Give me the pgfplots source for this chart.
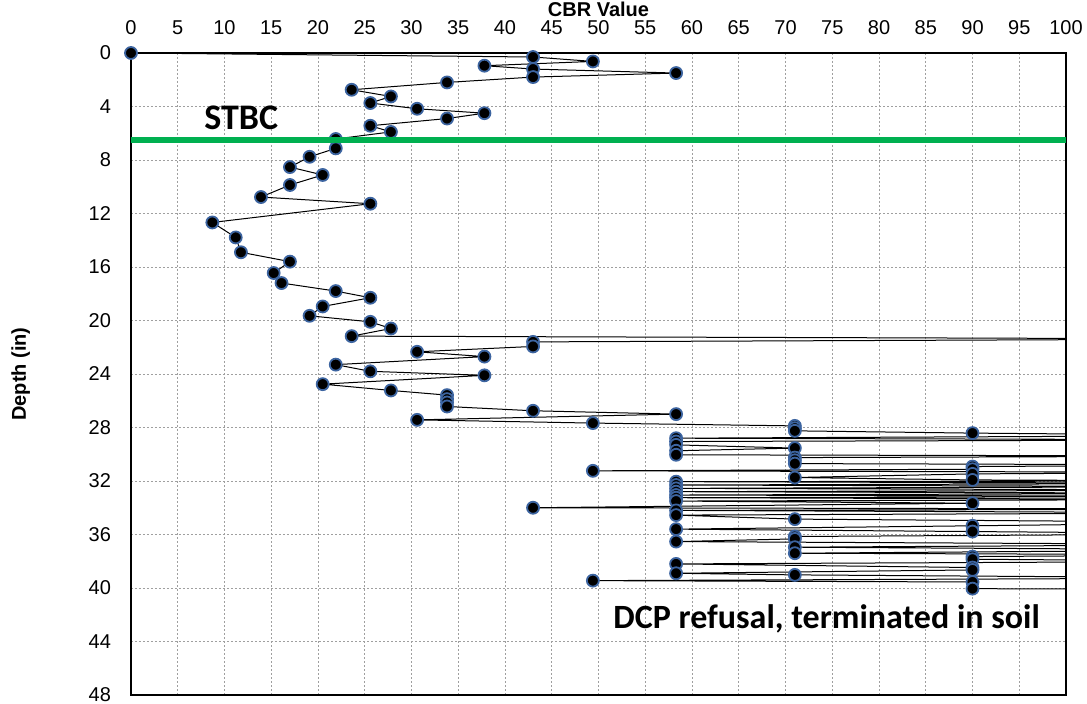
\documentclass[border=0pt]{standalone}
\usepackage{fontspec}
\setmainfont{Liberation Sans}
\newfontfamily\calib{Carlito}
\usepackage{pgfplots}
\pgfplotsset{compat=1.18}
\usepackage{pgfplotstable}
\definecolor{mkblue}{RGB}{60,100,160}
\definecolor{stbcgreen}{RGB}{0,176,80}

\pgfplotstableread{
x y
0 0
43 0.3
49.4 0.63
37.8 0.95
43 1.2
58.3 1.5
43 1.8
33.8 2.2
23.6 2.75
27.8 3.25
25.6 3.74
30.6 4.17
37.8 4.5
33.8 4.9
25.6 5.44
27.8 5.9
21.9 6.43
21.9 7.13
19.1 7.76
17.0 8.53
20.5 9.12
17.0 9.87
13.9 10.77
25.6 11.27
8.7 12.67
11.2 13.79
11.76 14.9
17.0 15.6
15.26 16.45
16.1 17.2
21.9 17.8
25.6 18.3
20.5 18.95
19.1 19.65
25.6 20.1
27.8 20.6
23.6 21.17
120 21.38
43 21.6
43 21.94
30.6 22.34
37.8 22.7
21.9 23.3
25.6 23.8
37.8 24.1
20.5 24.76
27.8 25.23
33.8 25.58
33.8 25.88
33.8 26.13
33.8 26.43
43 26.75
58.3 27.0
30.6 27.43
49.4 27.67
71 27.88
71 28.05
71 28.25
90 28.42
120 28.6
58.3 28.8
120 28.92
58.3 29.05
58.3 29.3
71 29.54
58.3 29.74
58.3 30.04
120 30.14
71 30.25
71 30.45
71 30.7
120 30.8
90 30.92
90 31.12
49.4 31.24
120 31.35
90 31.47
71 31.74
90 31.92
120 32.0
58.3 32.05
120 32.18
58.3 32.3
120 32.42
58.3 32.55
120 32.68
58.3 32.8
120 32.92
58.3 33.05
120 33.15
58.3 33.25
120 33.38
58.3 33.5
90 33.66
43 34.0
120 34.1
58.3 34.2
120 34.38
58.3 34.55
71 34.85
120 35.1
90 35.35
58.3 35.6
90 35.78
120 35.95
71 36.15
71 36.33
58.3 36.53
120 36.75
71 36.95
120 37.15
71 37.4
120 37.52
90 37.65
90 37.85
120 38.0
58.3 38.2
90 38.47
90 38.65
58.3 38.9
71 39.02
120 39.25
49.4 39.45
90 39.55
90 40.05
120 40.12
}\cbrdata

\begin{document}
\begin{tikzpicture}
\begin{axis}[name=ax,
  scale only axis, width=467.5pt, height=321pt,
  xmin=0, xmax=100, ymin=0, ymax=48, y dir=reverse,
  xticklabel pos=upper,
  xtick={0,5,...,100}, ytick={0,4,...,48},
  grid=major,
  major grid style={gray!75, dash pattern=on 1pt off 1pt, line width=0.4pt},
  major tick length=0pt,
  tick label style={font=\fontsize{10}{11}\selectfont},
  /pgf/number format/assume math mode=true,
  xticklabel style={yshift=5.5pt},
  yticklabel style={xshift=-6.5pt},
  xlabel={\bfseries CBR Value},
  xlabel style={at={(axis description cs:0.5,1)}, anchor=base, yshift=18pt, font=\fontsize{10}{12}\selectfont},
  ylabel={\bfseries Depth (in)},
  ylabel style={at={(axis description cs:-0.118,0.5)}, anchor=center, font=\fontsize{10}{12}\selectfont},
  axis line style={line width=0.6pt},
  clip mode=individual,
]
\addplot[black, line width=0.5pt, no markers] table {\cbrdata};
\addplot[only marks, mark=*, mark size=3.0pt, mark options={fill=black, draw=mkblue, line width=0.9pt}, restrict x to domain=0:100] table {\cbrdata};
\addplot[stbcgreen, line width=3.2pt, no markers] coordinates {(0,6.5) (100,6.5)};
\node[anchor=base west, font=\calib\bfseries\fontsize{18}{20}\selectfont] at (axis cs:7.1,5.74) {STBC};
\node[anchor=base, font=\calib\bfseries\fontsize{17}{19}\selectfont] at (axis cs:74.4,43.0) {DCP refusal, terminated in soil};
\end{axis}
\pgfresetboundingbox
\path[use as bounding box] ([xshift=-65.5pt,yshift=26.5pt]ax.north west) rectangle ([xshift=10.5pt,yshift=-4.5pt]ax.south east);
\end{tikzpicture}
\end{document}
